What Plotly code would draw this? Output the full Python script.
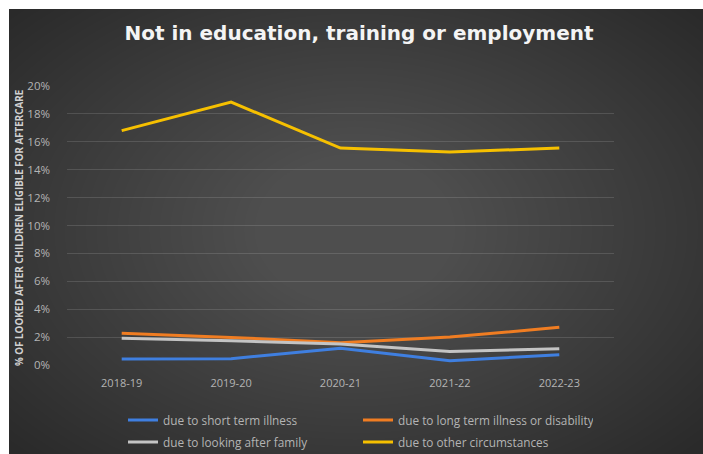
import plotly.graph_objects as go

# Academic years on the category axis
years = ["2018-19", "2019-20", "2020-21", "2021-22", "2022-23"]

# Percentage of looked-after children eligible for aftercare who are NEET, by reason
short_term_illness = [0.43, 0.45, 1.2, 0.31, 0.74]
long_term_illness = [2.27, 1.98, 1.6, 2.0, 2.7]
looking_after_family = [1.91, 1.74, 1.5, 0.96, 1.17]
other_circumstances = [16.8, 18.85, 15.55, 15.27, 15.55]

series_names = [
    "due to short term illness",
    "due to long term illness or disability",
    "due to looking after family",
    "due to other circumstances",
]
series_values = [short_term_illness, long_term_illness, looking_after_family, other_circumstances]
series_colors = ["#3f7fe0", "#f07d22", "#c4c4c4", "#f6c000"]
# two legend rows of two entries each
series_legend = ["legend", "legend", "legend2", "legend2"]

y_ticks = list(range(0, 21, 2))

W, H = 703, 454
L, R, T, B = 67, 89, 86, 89
PW, PH = W - L - R, H - T - B


def px_x(x):
    return (x - L) / PW


def px_y(y):
    return (H - B - y) / PH


fig = go.Figure()
for name, vals, col, lg in zip(series_names, series_values, series_colors, series_legend):
    fig.add_trace(go.Scatter(
        x=years, y=vals, name=name, mode="lines",
        line=dict(color=col, width=3), legend=lg,
    ))

# soft radial lightening toward the middle of the dark panel
shapes = []
n = 36
for i in range(n):
    f = 1 - i / n
    rx, ry = 90 + 380 * f, 70 + 240 * f
    cx, cy = 355, 230
    shapes.append(dict(
        type="circle", xref="paper", yref="paper", layer="below",
        x0=px_x(cx - rx), x1=px_x(cx + rx), y0=px_y(cy + ry), y1=px_y(cy - ry),
        fillcolor="rgba(255,255,255,0.0065)", line=dict(width=0),
    ))
# white page margin at the top and left of the panel
shapes.append(dict(type="rect", xref="paper", yref="paper", layer="below",
                   x0=px_x(0), x1=px_x(W), y0=px_y(9), y1=px_y(0),
                   fillcolor="white", line=dict(width=0)))
shapes.append(dict(type="rect", xref="paper", yref="paper", layer="below",
                   x0=px_x(0), x1=px_x(9), y0=px_y(H), y1=px_y(0),
                   fillcolor="white", line=dict(width=0)))

legend_style = dict(
    orientation="h", x=px_x(123), xanchor="left", yanchor="middle",
    entrywidth=190, entrywidthmode="pixels",
    font=dict(size=11.8, color="#b4b4b4"),
    bgcolor="rgba(0,0,0,0)", traceorder="normal",
)

fig.update_layout(
    width=W, height=H,
    margin=dict(l=L, r=R, t=T, b=B, autoexpand=False),
    paper_bgcolor="#2a2a2a",
    plot_bgcolor="rgba(0,0,0,0)",
    font=dict(family="Open Sans", color="#b4b4b4", size=10),
    title=dict(
        text="<b>Not in education, training or employment</b>",
        x=359 / W, xanchor="center", y=1 - 33 / H, yanchor="middle",
        font=dict(family="DejaVu Sans", size=20, color="#f4f4f4"),
    ),
    xaxis=dict(
        type="category", range=[-0.5, 4.5],
        showgrid=False, zeroline=False, showline=False, ticks="",
        ticklabelstandoff=10,
        tickfont=dict(size=11, color="#b4b4b4"),
    ),
    yaxis=dict(
        range=[0, 20], tickvals=y_ticks, ticktext=[f"{v}%" for v in y_ticks],
        showgrid=True, gridcolor="rgba(255,255,255,0.13)", gridwidth=1,
        zeroline=False, showline=False, ticks="", ticklabelstandoff=16,
        tickfont=dict(size=11.5, color="#b4b4b4"),
    ),
    legend=dict(legend_style, y=px_y(420)),
    legend2=dict(legend_style, y=px_y(442)),
    shapes=shapes,
    annotations=[dict(
        text="<b>% OF LOOKED AFTER CHILDREN ELIGIBLE FOR AFTERCARE</b>",
        xref="paper", yref="paper", x=px_x(20), y=px_y(228),
        xanchor="center", yanchor="middle", textangle=-90, showarrow=False,
        font=dict(size=9.8, color="#d0d0d0"),
    )],
)

fig.write_html("out.html")
